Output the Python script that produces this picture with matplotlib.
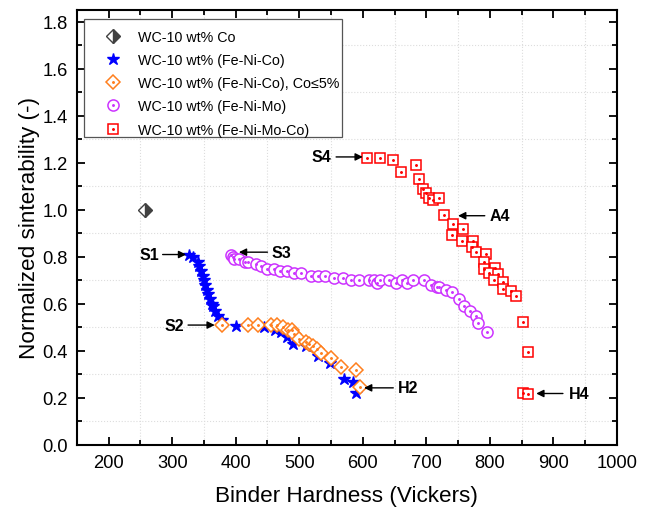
import matplotlib.pyplot as plt
from matplotlib.lines import Line2D
from matplotlib.patches import Rectangle

plt.rcParams['font.family'] = ['Liberation Sans', 'DejaVu Sans']

# WC-10 wt% Co
co_x = [257]
co_y = [1.0]

# WC-10 wt% (Fe-Ni-Co)
fenico_x = [327, 333, 340, 343, 345, 348, 350, 352, 355, 357, 360, 362, 365, 368, 372, 378,
            400, 445, 462, 472, 480, 490, 510, 530, 548, 570, 585, 590]
fenico_y = [0.81, 0.80, 0.78, 0.76, 0.74, 0.72, 0.70, 0.68, 0.66, 0.64, 0.62, 0.60, 0.59, 0.57, 0.55, 0.53,
            0.505, 0.50, 0.49, 0.48, 0.46, 0.43, 0.42, 0.38, 0.35, 0.28, 0.27, 0.22]

# WC-10 wt% (Fe-Ni-Co), Co<=5%
fenico5_x = [378, 420, 435, 455, 465, 475, 482, 488, 492, 500, 510, 516, 522, 528, 535, 550, 565, 590, 595]
fenico5_y = [0.51, 0.51, 0.51, 0.51, 0.51, 0.50, 0.49, 0.49, 0.47, 0.45, 0.44, 0.43, 0.42, 0.41, 0.39, 0.37, 0.33, 0.32, 0.245]

# WC-10 wt% (Fe-Ni-Mo)
fenimo_x = [392, 395, 398, 405, 415, 420, 432, 440, 450, 460, 470, 480, 492, 503, 518, 530, 540, 554,
            569, 581, 594, 609, 618, 622, 627, 642, 652, 662, 670, 679, 696, 708, 717, 720, 731, 741,
            751, 759, 769, 778, 781, 795]
fenimo_y = [0.81, 0.80, 0.79, 0.79, 0.78, 0.78, 0.77, 0.76, 0.75, 0.75, 0.74, 0.74, 0.73, 0.73, 0.72, 0.72, 0.72, 0.71,
            0.71, 0.70, 0.70, 0.70, 0.70, 0.69, 0.70, 0.70, 0.69, 0.70, 0.69, 0.70, 0.70, 0.68, 0.67, 0.67, 0.66, 0.65,
            0.62, 0.59, 0.57, 0.55, 0.52, 0.48]

# WC-10 wt% (Fe-Ni-Mo-Co)
fenimoco_x = [607, 627, 648, 660, 683, 688, 695, 700, 705, 710, 720, 728, 742, 741, 758, 756, 774, 772,
              778, 794, 790, 790, 808, 799, 813, 807, 821, 820, 834, 841, 852, 860, 852, 860]
fenimoco_y = [1.22, 1.22, 1.21, 1.16, 1.19, 1.13, 1.09, 1.07, 1.05, 1.04, 1.05, 0.98, 0.94, 0.895, 0.92, 0.868, 0.868, 0.843,
              0.821, 0.814, 0.779, 0.750, 0.753, 0.732, 0.728, 0.701, 0.692, 0.664, 0.654, 0.634, 0.525, 0.394, 0.221, 0.217]

labels = ['WC-10 wt% Co', 'WC-10 wt% (Fe-Ni-Co)', 'WC-10 wt% (Fe-Ni-Co), Co\u22645%',
          'WC-10 wt% (Fe-Ni-Mo)', 'WC-10 wt% (Fe-Ni-Mo-Co)']

# text label, text position, arrow tail, arrow tip
notes = [('S1', (264, 0.81), (285, 0.81), (322, 0.81)),
         ('S2', (303, 0.51), (325, 0.51), (367, 0.51)),
         ('S3', (472, 0.82), (450, 0.82), (405, 0.82)),
         ('S4', (535, 1.225), (558, 1.225), (600, 1.225)),
         ('A4', (815, 0.975), (792, 0.975), (750, 0.975)),
         ('H2', (671, 0.243), (648, 0.243), (602, 0.243)),
         ('H4', (940, 0.219), (915, 0.219), (873, 0.219))]

fig = plt.figure(figsize=(6.46, 5.10), dpi=100)
ax = fig.add_axes([0.119, 0.1255, 0.836, 0.853])

mew = 1.1
orange = '#ff7f1e'
purple = '#cc33ff'
red = '#ff0000'


def open_pts(x, y, marker, color, size):
    ax.plot(x, y, ls='none', marker=marker, ms=size, mfc='white', mec=color, mew=mew, zorder=3)
    ax.plot(x, y, ls='none', marker='.', ms=2.2, color=color, zorder=4)


ax.plot(co_x, co_y, ls='none', marker='D', ms=7, fillstyle='right', mfc='#404040',
        mfcalt='white', mec='#404040', mew=1.0, zorder=3)
ax.plot(fenico_x, fenico_y, ls='none', marker='*', ms=9, color='#0000ff', zorder=3)
open_pts(fenico5_x, fenico5_y, 'D', orange, 7)
open_pts(fenimo_x, fenimo_y, 'o', purple, 8)
open_pts(fenimoco_x, fenimoco_y, 's', red, 7)

for txt, tpos, tail, tip in notes:
    ax.text(tpos[0], tpos[1], txt, ha='center', va='center', fontsize=11.5, fontweight='bold')
    ax.annotate('', xy=tip, xytext=tail,
                arrowprops=dict(arrowstyle='-|>', color='black', lw=1.0, mutation_scale=11,
                                shrinkA=0, shrinkB=0))

h_co = Line2D([], [], ls='none', marker='D', ms=7, fillstyle='right', mfc='#404040',
              mfcalt='white', mec='#404040', mew=1.0)
h_fnc = Line2D([], [], ls='none', marker='*', ms=9, color='#0000ff')


def open_handle(marker, color, size):
    return (Line2D([], [], ls='none', marker=marker, ms=size, mfc='white', mec=color, mew=mew),
            Line2D([], [], ls='none', marker='.', ms=2.2, color=color))


handles = [h_co, h_fnc, open_handle('D', orange, 7), open_handle('o', purple, 8),
           open_handle('s', red, 7)]

# legend box drawn by hand (tight right padding as in the original)
ax.add_patch(Rectangle((84 / 646, 1 - 138 / 510), 258 / 646, 118 / 510,
                       transform=fig.transFigure, facecolor='white', clip_on=False,
                       edgecolor='#555555', lw=0.9, zorder=4.5))
leg = ax.legend(handles, labels, loc='upper left', bbox_to_anchor=(99 / 646, 1 - 31 / 510),
                bbox_transform=fig.transFigure, borderaxespad=0, borderpad=0,
                frameon=False, fontsize=10.3, handlelength=2.0, handletextpad=0.7,
                labelspacing=0.64)
leg.set_zorder(5)

ax.set_xlim(150, 1000)
ax.set_ylim(0, 1.85)
ax.set_xticks(range(200, 1001, 100))
ax.set_xticks(range(250, 1000, 100), minor=True)
ax.set_yticks([0, 0.2, 0.4, 0.6, 0.8, 1.0, 1.2, 1.4, 1.6, 1.8])
ax.set_yticks([0.1, 0.3, 0.5, 0.7, 0.9, 1.1, 1.3, 1.5, 1.7], minor=True)
ax.set_yticklabels(['0.0', '0.2', '0.4', '0.6', '0.8', '1.0', '1.2', '1.4', '1.6', '1.8'])
ax.tick_params(which='both', direction='in', top=True, right=True, labelsize=13.2, width=1.3,
               pad=6.5)
ax.tick_params(which='major', length=6)
ax.tick_params(which='minor', length=3.5)
ax.grid(which='minor', color='#dddddd', ls=':', lw=0.8)
for s in ax.spines.values():
    s.set_linewidth(1.5)

ax.set_xlabel('Binder Hardness (Vickers)', fontsize=16.2, labelpad=10)
ax.set_ylabel('Normalized sinterability (-)', fontsize=16.2, labelpad=2)

fig.savefig('out.png', dpi=100)
